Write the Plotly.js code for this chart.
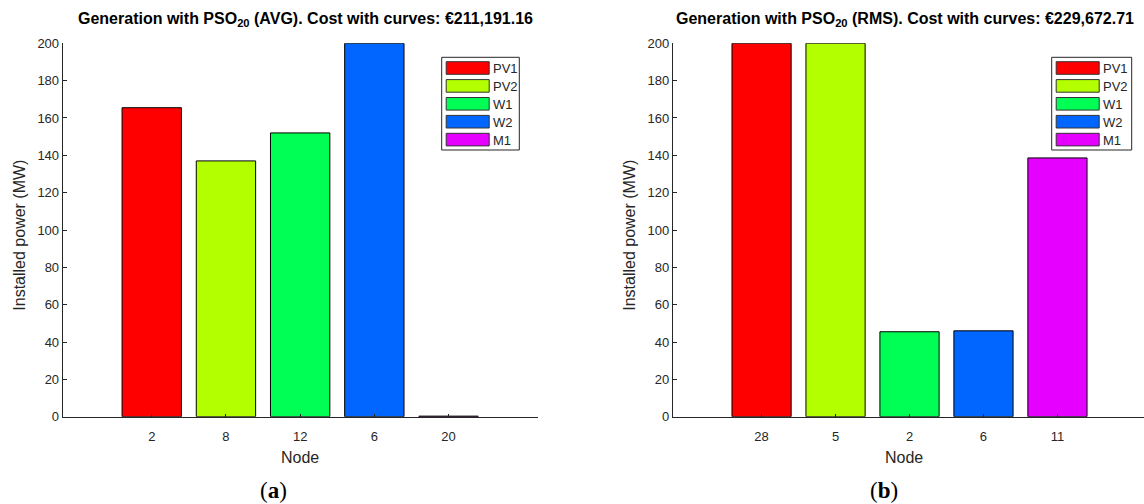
<!DOCTYPE html>
<html>
<head>
<meta charset="utf-8">
<script src="https://cdn.plot.ly/plotly-3.0.1.min.js"></script>
<style>html,body{margin:0;padding:0;background:#fff;}#chart{width:1144px;height:504px;}</style>
</head>
<body>
<div id="chart"></div>
<script>
// ---- data ----
const seriesNames = ['PV1', 'PV2', 'W1', 'W2', 'M1'];
const seriesColors = ['#ff0000', '#b3ff00', '#00ff55', '#0066ff', '#e500ff'];
const nodesA = ['2', '8', '12', '6', '20'];
const powerA = [165.5, 137, 152, 200, 0.3];
const nodesB = ['28', '5', '2', '6', '11'];
const powerB = [200, 200, 45.5, 46, 138.6];
const titleA = '<b>Generation with PSO<sub>20</sub> (AVG). Cost with curves: €211,191.16</b>';
const titleB = '<b>Generation with PSO<sub>20</sub> (RMS). Cost with curves: €229,672.71</b>';
const xTitle = 'Node';
const yTitle = 'Installed power (MW)';
const yTicks = [0, 20, 40, 60, 80, 100, 120, 140, 160, 180, 200];

// ---- helpers (pixel -> paper) ----
const W = 1144, H = 504;
const px = v => v / W;
const py = v => 1 - v / H;
const FONT = 'Liberation Sans, Arial, sans-serif';
const AX = '#262626';

const traces = [
  {type: 'bar', x: nodesA, y: powerA, xaxis: 'x', yaxis: 'y', width: 0.8,
   marker: {color: seriesColors, line: {color: '#000', width: 1}}, hoverinfo: 'x+y'},
  {type: 'bar', x: nodesB, y: powerB, xaxis: 'x2', yaxis: 'y2', width: 0.8,
   marker: {color: seriesColors, line: {color: '#000', width: 1}}, hoverinfo: 'x+y'}
];

const yDom = [py(416.7), py(43.3)];
function xAxis(dom, rng, anchor) {
  return {domain: dom, anchor: anchor, type: 'category', range: rng,
    showline: true, linecolor: AX, linewidth: 1, mirror: false,
    ticks: 'inside', ticklen: 3, tickcolor: AX, tickwidth: 1,
    ticklabelstandoff: 8,
    showgrid: false, zeroline: false,
    tickfont: {family: FONT, size: 13, color: AX}};
}
function yAxis(anchor) {
  return {domain: yDom, anchor: anchor, range: [0, 200], tickvals: yTicks,
    showline: true, linecolor: AX, linewidth: 1, mirror: false,
    ticks: 'inside', ticklen: 4, tickcolor: AX, tickwidth: 1,
    showgrid: false, zeroline: false,
    tickfont: {family: FONT, size: 13, color: AX}};
}

const annotations = [];
const shapes = [];
function panel(xLeft, xCenter, nodeX, title, legBox, label) {
  annotations.push({xref: 'paper', yref: 'paper', x: px(xCenter), y: py(20), text: title,
    showarrow: false, xanchor: 'center', yanchor: 'middle',
    font: {family: FONT, size: 16, color: '#000'}});
  annotations.push({xref: 'paper', yref: 'paper', x: px(nodeX), y: py(457), text: xTitle,
    showarrow: false, xanchor: 'center', yanchor: 'middle',
    font: {family: FONT, size: 16, color: AX}});
  annotations.push({xref: 'paper', yref: 'paper', x: px(xLeft - 44), y: py(235), text: yTitle,
    showarrow: false, textangle: -90, xanchor: 'center', yanchor: 'middle',
    font: {family: FONT, size: 16, color: AX}});
  annotations.push({xref: 'paper', yref: 'paper', x: px(label[0]), y: py(490), text: label[1],
    showarrow: false, xanchor: 'center', yanchor: 'middle',
    font: {family: 'Liberation Serif, DejaVu Serif, serif', size: 23, color: '#000'}});
  // legend
  const [bx0, bx1, by0, by1] = legBox;
  shapes.push({type: 'rect', xref: 'paper', yref: 'paper', x0: px(bx0), x1: px(bx1), y0: py(by1), y1: py(by0),
    line: {color: AX, width: 1}, fillcolor: '#fff', layer: 'above'});
  seriesNames.forEach((name, i) => {
    const cy = 68 + i * 17.9;
    shapes.push({type: 'rect', xref: 'paper', yref: 'paper',
      x0: px(bx0 + 4.5), x1: px(bx0 + 47.5), y0: py(cy + 6.3), y1: py(cy - 6.3),
      line: {color: '#333', width: 1}, fillcolor: seriesColors[i], layer: 'above'});
    annotations.push({xref: 'paper', yref: 'paper', x: px(bx0 + 49.5), y: py(cy + 0.5), text: name,
      showarrow: false, xanchor: 'left', yanchor: 'middle',
      font: {family: FONT, size: 13, color: AX}});
  });
}
panel(62.7, 305, 300, titleA, [441.7, 519.3, 57.3, 150], [273, '(<b>a</b>)']);
panel(672.8, 905, 904, titleB, [1051.7, 1131.7, 57.3, 150], [884, '(<b>b</b>)']);

const layout = {
  width: W, height: H,
  margin: {l: 0, r: 0, t: 0, b: 0},
  paper_bgcolor: '#fff', plot_bgcolor: '#fff',
  showlegend: false,
  bargap: 0.2,
  xaxis: xAxis([px(62.7), px(537.6)], [-1.2, 5.2], 'y'),
  yaxis: yAxis('x'),
  xaxis2: xAxis([px(672.8), 1], [-1.2, 5.17], 'y2'),
  yaxis2: yAxis('x2'),
  annotations: annotations,
  shapes: shapes
};

Plotly.newPlot('chart', traces, layout, {staticPlot: true, displayModeBar: false});
</script>
</body>
</html>
